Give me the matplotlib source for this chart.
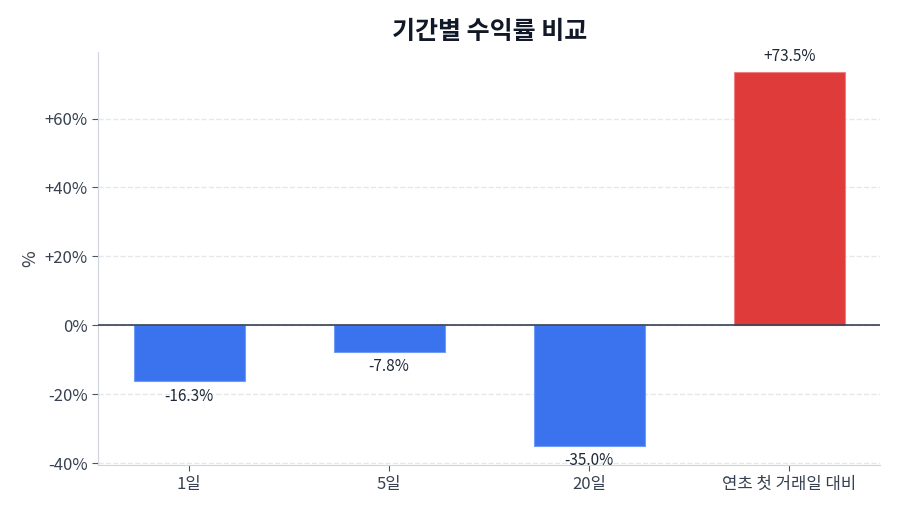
import matplotlib.pyplot as plt

plt.rcParams["font.family"] = ["Noto Sans CJK KR", "DejaVu Sans"]

periods = ["1일", "5일", "20일", "연초 첫 거래일 대비"]
returns = [-16.3, -7.8, -35.0, 73.5]
yticks = [-40, -20, 0, 20, 40, 60]

blue = "#3b73ee"
red = "#e03b3b"
colors = [red if v > 0 else blue for v in returns]
edges = ["#f08080" if v > 0 else "#6f9af5" for v in returns]

fig = plt.figure(figsize=(9, 5.14), dpi=100)
ax = fig.add_axes([0.109, 0.095, 0.869, 0.803])

x = range(len(periods))
ax.bar(x, returns, width=0.555, color=colors, edgecolor=edges, linewidth=0.8, zorder=3)

for xi, v in zip(x, returns):
    if v >= 0:
        ax.text(xi, v + 2.0, f"+{v:.1f}%", ha="center", va="bottom", fontsize=11, color="#1f2937")
    else:
        ax.text(xi, v - 1.8, f"{v:.1f}%", ha="center", va="top", fontsize=11, color="#1f2937")

ax.axhline(0, color="#374151", linewidth=1.2, zorder=4)
ax.set_ylim(-40.6, 79.2)
ax.set_yticks(yticks)
ax.set_yticklabels([f"+{t}%" if t > 0 else f"{t}%" for t in yticks])
ax.set_xticks(list(x))
ax.set_xticklabels(periods)
ax.set_ylabel("%", fontsize=13, color="#374151", labelpad=4)
ax.set_title("기간별 수익률 비교", fontsize=18, fontweight="bold", color="#111827", pad=10)

ax.grid(axis="y", linestyle="--", color="#e5e7eb", linewidth=1, zorder=0)
ax.tick_params(axis="both", labelsize=12, colors="#374151", length=4)
ax.tick_params(axis="both", color="#4b5563")
for side in ["top", "right"]:
    ax.spines[side].set_visible(False)
for side in ["left", "bottom"]:
    ax.spines[side].set_color("#d1d5db")

fig.savefig("out.png", dpi=100)
